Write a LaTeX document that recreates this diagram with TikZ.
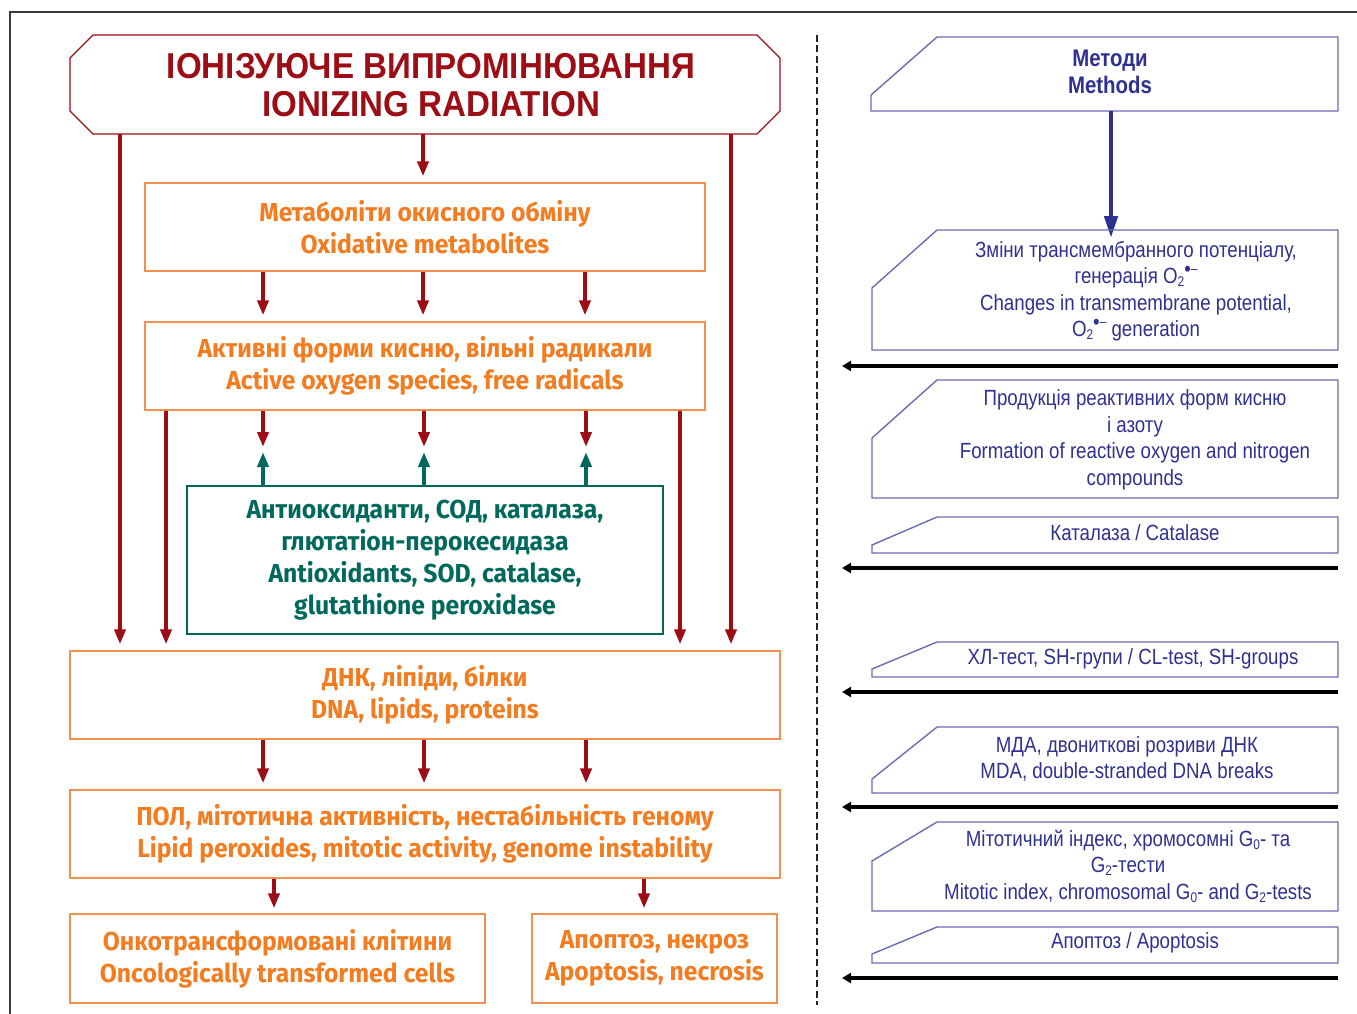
\documentclass[tikz,border=0pt]{standalone}
\usepackage{fontspec}
\usetikzlibrary{arrows.meta,calc}
\setmainfont{Liberation Sans}
\newfontfamily\hdrfont[FakeStretch=0.92]{Liberation Sans}
\newfontfamily\orfont[FakeStretch=0.95]{Fira Sans}
\newfontfamily\rfont[FakeStretch=0.85]{Liberation Sans}
\definecolor{dred}{HTML}{9C0D15}
\definecolor{orng}{HTML}{F47C20}
\definecolor{oborder}{HTML}{F39050}
\definecolor{teal2}{HTML}{00695C}
\definecolor{btext}{HTML}{2E3092}
\definecolor{bborder}{HTML}{6A6CB3}
\definecolor{frame}{HTML}{3A3A3A}
\newcommand\lsub[1]{\raisebox{-3pt}{\fontsize{14}{14}\selectfont #1}}
\newcommand\osup{O\lsub{2}\raisebox{7pt}{\fontsize{22}{22}\selectfont\textbullet}\raisebox{10pt}{\fontsize{14}{14}\selectfont\textendash}}
\begin{document}
\begin{tikzpicture}[x=1pt,y=-1pt,
  redarr/.style={draw=dred, line width=4.5pt, -{Triangle[length=15pt,width=11pt]}},
  greenarr/.style={draw=teal2, line width=4.5pt, -{Triangle[length=15pt,width=11pt]}},
  blackarr/.style={draw=black, line width=4.5pt, -{Triangle[length=9pt,width=10pt]}},
  bluearr/.style={draw=btext, line width=4.5pt, -{Triangle[length=22pt,width=13pt]}},
  obox/.style={draw=oborder, line width=1.3pt, inner sep=0pt, align=center, text=orng,
    font=\orfont\bfseries\fontsize{26}{32}\selectfont},
  tbox/.style={draw=teal2, line width=1.3pt, inner sep=0pt, align=center, text=teal2,
    font=\orfont\bfseries\fontsize{26}{32}\selectfont},
  mshape/.style={draw=bborder, line width=1.4pt},
  mtext/.style={align=center, text=btext, inner sep=0pt, font=\rfont\fontsize{22}{26.5}\selectfont},
]
\useasboundingbox (0,0) rectangle (1357,1014);
% frame
\draw[frame, line width=1.6pt] (10,1014) -- (10,12) -- (1357,12);
% divider
\draw[black!85, line width=2.6pt, dash pattern=on 7pt off 3.5pt] (817,35) -- (817,1005);

% header
\draw[dred, line width=1.3pt] (93,35) -- (757,35) -- (780,58) -- (780,111) -- (757,134) -- (93,134) -- (70,111) -- (70,58) -- cycle;
\node[text=dred, align=center, inner sep=0pt, font=\hdrfont\bfseries\fontsize{36}{38}\selectfont] (hdr) at (431,85) {ІОНІЗУЮЧЕ ВИПРОМІНЮВАННЯ\\IONIZING RADIATION};

% left column boxes
\node[obox, minimum width=560pt, minimum height=88pt] (met) at (425,227) {Метаболіти окисного обміну\\Oxidative metabolites};
\node[obox, minimum width=560pt, minimum height=88pt] (act) at (425,366) {Активні форми кисню, вільні радикали\\Active oxygen species, free radicals};
\node[tbox, minimum width=476pt, minimum height=148pt] (aox) at (425,560) {Антиоксиданти, СОД, каталаза,\\глютатіон-перокесидаза\\Antioxidants, SOD, catalase,\\glutathione peroxidase};
\node[obox, minimum width=710pt, minimum height=88pt] (dna) at (425,695) {ДНК, ліпіди, білки\\DNA, lipids, proteins};
\node[obox, minimum width=710pt, minimum height=88pt] (pol) at (425,834) {ПОЛ, мітотична активність, нестабільність геному\\Lipid peroxides, mitotic activity, genome instability};
\node[obox, minimum width=415pt, minimum height=89pt] (onc) at (277.5,958.5) {Онкотрансформовані клітини\\Oncologically transformed cells};
\node[obox, minimum width=245pt, minimum height=89pt] (apo) at (654.5,958.5) {Апоптоз, некроз\\Apoptosis, necrosis};

% red arrows from header
\draw[redarr] (120,134) -- ([yshift=6pt]120,0 |- dna.north);
\draw[redarr] (731,134) -- ([yshift=6pt]731,0 |- dna.north);
\draw[redarr] (423,134) -- ([yshift=6pt]423,0 |- met.north);
% met -> act
\foreach \x in {263,423,585}
  \draw[redarr] (\x,0 |- met.south) -- ([yshift=6pt]\x,0 |- act.north);
% act -> dna
\draw[redarr] (166,0 |- act.south) -- ([yshift=6pt]166,0 |- dna.north);
\draw[redarr] (680,0 |- act.south) -- ([yshift=6pt]680,0 |- dna.north);
% act <-> aox
\foreach \x in {263,424,586}{
  \draw[redarr] (\x,0 |- act.south) -- (\x,447);
  \draw[greenarr] (\x,0 |- aox.north) -- (\x,452);
}
% dna -> pol
\foreach \x in {263,424,586}
  \draw[redarr] (\x,0 |- dna.south) -- ([yshift=6pt]\x,0 |- pol.north);
% pol -> onc, apo
\draw[redarr] (274,0 |- pol.south) -- ([yshift=5pt]274,0 |- onc.north);
\draw[redarr] (644,0 |- pol.south) -- ([yshift=5pt]644,0 |- apo.north);

% right column
\draw[mshape] (937,37) -- (1338,37) -- (1338,111) -- (871,111) -- (871,95) -- cycle;
\node[mtext, font=\rfont\bfseries\fontsize{24}{27}\selectfont] (m1) at (1110,71.5) {Методи\\Methods};
\coordinate (m1b) at (1111,111);
\coordinate (m2t) at (1111,230);
\draw[bluearr] (m1b) -- ([yshift=-8pt]m2t);

\draw[mshape] (937,230) -- (1338,230) -- (1338,350) -- (872,350) -- (872,288) -- cycle;
\node[mtext] (m2) at (1136,291) {Зміни трансмембранного потенціалу,\\генерація \osup\\Changes in transmembrane potential,\\\osup\ generation};

\draw[mshape] (937,380) -- (1338,380) -- (1338,498) -- (872,498) -- (872,438) -- cycle;
\node[mtext] (m3) at (1135,440) {Продукція реактивних форм кисню\\і азоту\\Formation of reactive oxygen and nitrogen\\compounds};

\draw[mshape] (937,517) -- (1338,517) -- (1338,553) -- (872,553) -- (872,545) -- cycle;
\node[mtext] (m4) at (1135,533) {Каталаза / Catalase};

\draw[mshape] (937,642) -- (1338,642) -- (1338,677) -- (872,677) -- (872,669) -- cycle;
\node[mtext] (m5) at (1133,659) {ХЛ-тест, SH-групи / CL-test, SH-groups};

\draw[mshape] (937,727) -- (1338,727) -- (1338,793) -- (872,793) -- (872,779) -- cycle;
\node[mtext] (m6) at (1127,759) {МДА, двониткові розриви ДНК\\MDA, double-stranded DNA breaks};

\draw[mshape] (937,822) -- (1338,822) -- (1338,911) -- (872,911) -- (872,861) -- cycle;
\node[mtext] (m7) at (1128,866) {Мітотичний індекс, хромосомні G\lsub{0}- та\\G\lsub{2}-тести\\Mitotic index, chromosomal G\lsub{0}- and G\lsub{2}-tests};

\draw[mshape] (937,927) -- (1338,927) -- (1338,963) -- (872,963) -- (872,954) -- cycle;
\node[mtext] (m8) at (1135,943) {Апоптоз / Apoptosis};

% black arrows
\foreach \y/\n in {366/a,568/b,692/c,807/d,978/e}{
  \coordinate (rs\n) at (1338,\y);
  \coordinate (re\n) at (842,\y);
  \draw[blackarr] (rs\n) -- (re\n);
}
\end{tikzpicture}
\end{document}
